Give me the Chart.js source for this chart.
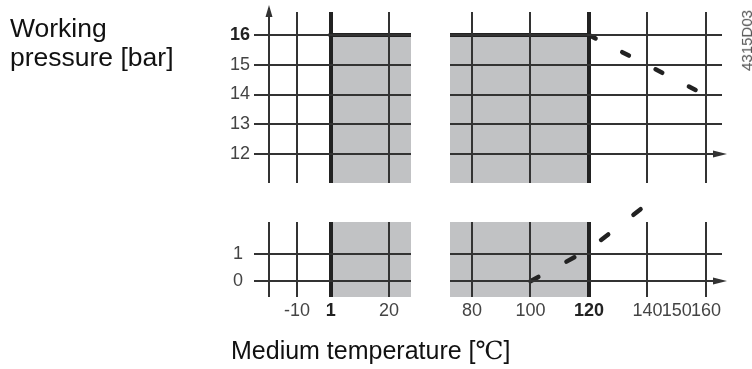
<!DOCTYPE html>
<html>
<head>
<meta charset="utf-8">
<script src="https://cdn.jsdelivr.net/npm/chart.js@4.4.1/dist/chart.umd.min.js"></script>
<style>
  html, body { margin: 0; padding: 0; background: #fff; }
  #wrap { position: relative; width: 752px; height: 369px; overflow: hidden; font-family: "Liberation Sans", Arial, sans-serif; }
  #wrap canvas { position: absolute; left: 0; top: 0; }
  .label { position: absolute; color: #111; white-space: nowrap; }
  #yTitle { left: 10px; top: 14px; font-size: 26.5px; line-height: 29px; }
  #xTitle { left: 231px; top: 338px; font-size: 25px; line-height: 25px; }
  #xTitle span { font-family: "DejaVu Serif", "Liberation Serif", serif; }
  #code { left: 740px; top: 10px; font-size: 15px; line-height: 14px; color: #555; writing-mode: vertical-rl; transform: rotate(180deg); }
</style>
</head>
<body>
<div id="wrap">
  <canvas id="topLeft" width="752" height="369"></canvas>
  <canvas id="topRight" width="752" height="369"></canvas>
  <canvas id="bottomLeft" width="752" height="369"></canvas>
  <canvas id="bottomRight" width="752" height="369"></canvas>
  <div class="label" id="yTitle">Working<br>pressure [bar]</div>
  <div class="label" id="xTitle">Medium temperature [<span>℃</span>]</div>
  <div class="label" id="code">4315D03</div>
</div>
<script>
// pressure ticks: upper band (bar) and lower band near 0
const highPressureTicks = [12, 13, 14, 15, 16];
const lowPressureTicks = [0, 1];
// temperature ticks for the two parts of the broken axis
const coldTempTicks = [-10, 1, 20];
const hotTempTicks = [80, 100, 120, 140, 150, 160];
const boldTempTicks = [1, 120];
const boldPressureTicks = [16];
const axisTemp = -19;   // where the pressure axis stands

// permitted range: 1..120 °C up to 16 bar
const rangeTemp = [1, 120];
const rangePressure = 16;
// max pressure above 120 °C
const derateTemp = [120, 157.5];
const deratePressure = [16, 14.1];
// min pressure (vapour pressure) above 100 °C
const vapourTemp = [100, 120, 138.5];
const vapourPressure = [0, 1.15, 2.67];

// visible part of each scale
const coldLimits = { min: -24, max: 27.2 };
const hotLimits = { min: 72.5, max: 165.5 };
const highLimits = { min: 11.03, max: 16.77 };
const lowLimits = { min: -0.57, max: 2.14 };

const FONT = "'Liberation Sans', Arial, sans-serif";
const GRID = "#333";
const DARK = "#222";
const GRAY = "#c1c2c4";

const pts = (xs, ys) => xs.map((x, i) => ({ x: x, y: ys[i] }));

const arrowPlugin = {
  id: "arrows",
  afterDraw(chart, args, opts) {
    const ctx = chart.ctx;
    const a = chart.chartArea;
    ctx.save();
    ctx.fillStyle = GRID;
    ctx.strokeStyle = GRID;
    ctx.lineWidth = 2;
    if (opts.upAt !== undefined) {
      const x = Math.round(chart.scales.x.getPixelForValue(opts.upAt));
      ctx.beginPath();
      ctx.moveTo(x, a.top);
      ctx.lineTo(x, a.top - 4);
      ctx.stroke();
      ctx.beginPath();
      ctx.moveTo(x, a.top - 7);
      ctx.lineTo(x - 3.5, a.top + 5);
      ctx.lineTo(x + 3.5, a.top + 5);
      ctx.closePath();
      ctx.fill();
    }
    if (opts.rightAt !== undefined) {
      const y = Math.round(chart.scales.y.getPixelForValue(opts.rightAt));
      ctx.beginPath();
      ctx.moveTo(a.right + 5, y);
      ctx.lineTo(a.right - 9, y - 3.5);
      ctx.lineTo(a.right - 9, y + 3.5);
      ctx.closePath();
      ctx.fill();
    }
    ctx.restore();
  }
};

function zeroPad(s) {
  s.paddingLeft = 0;
  s.paddingRight = 0;
  s.paddingTop = 0;
  s.paddingBottom = 0;
}

function panel(id, o) {
  const datasets = [{
    data: o.band,
    order: 2,
    fill: "start",
    backgroundColor: GRAY,
    borderColor: DARK,
    borderWidth: o.bandBorder,
    borderCapStyle: "square",
    pointRadius: 0
  }];
  if (o.curve) {
    datasets.push({
      data: o.curve,
      order: 1,
      fill: false,
      borderColor: DARK,
      borderWidth: 4.5,
      borderDash: o.dash,
      borderCapStyle: "round",
      pointRadius: 0,
      tension: 0,
      clip: false
    });
  }

  return new Chart(document.getElementById(id), {
    type: "line",
    data: { datasets: datasets },
    options: {
      responsive: false,
      animation: false,
      events: [],
      layout: { autoPadding: false, padding: o.pad },
      plugins: {
        legend: { display: false },
        tooltip: { enabled: false },
        arrows: o.arrows || {}
      },
      scales: {
        x: {
          type: "linear",
          min: o.xLimits.min,
          max: o.xLimits.max,
          border: { display: false },
          afterBuildTicks: (s) => { s.ticks = o.xTicks.map((v) => ({ value: v })); },
          afterFit: (s) => { s.height = o.xHeight; zeroPad(s); },
          grid: {
            z: 1,
            drawTicks: false,
            color: (c) => (c.tick && c.tick.value === 150 ? "rgba(0,0,0,0)" : (boldTempTicks.includes(c.tick && c.tick.value) ? DARK : GRID)),
            lineWidth: (c) => (c.tick && boldTempTicks.includes(c.tick.value) ? 4 : 2)
          },
          ticks: {
            display: o.xLabels,
            autoSkip: false,
            maxRotation: 0,
            padding: 3,
            color: (c) => (c.tick && boldTempTicks.includes(c.tick.value) ? "#222" : "#444"),
            font: (c) => ({
              family: FONT,
              size: 18,
              weight: c.tick && boldTempTicks.includes(c.tick.value) ? "bold" : "normal"
            }),
            callback: (v) => (v === axisTemp ? "" : String(v))
          }
        },
        y: {
          type: "linear",
          min: o.yLimits.min,
          max: o.yLimits.max,
          border: { display: false },
          afterBuildTicks: (s) => { s.ticks = o.yTicks.map((v) => ({ value: v })); },
          afterFit: (s) => { s.width = o.yWidth; zeroPad(s); },
          grid: { z: 1, drawTicks: false, color: GRID, lineWidth: 2 },
          ticks: {
            display: o.yLabels,
            padding: o.yPad,
            color: (c) => (c.tick && boldPressureTicks.includes(c.tick.value) ? "#222" : "#444"),
            font: (c) => ({
              family: FONT,
              size: 18,
              weight: c.tick && boldPressureTicks.includes(c.tick.value) ? "bold" : "normal"
            })
          }
        }
      }
    },
    plugins: [arrowPlugin]
  });
}

// upper left: cold side, 12..16 bar
panel("topLeft", {
  pad: { left: 200, right: 341, top: 12, bottom: 186 },
  xLimits: coldLimits, yLimits: highLimits,
  xTicks: [axisTemp].concat(coldTempTicks), yTicks: highPressureTicks,
  xLabels: false, yLabels: true, xHeight: 0, yWidth: 54, yPad: 4,
  band: pts([rangeTemp[0], coldLimits.max], [rangePressure, rangePressure]),
  bandBorder: 4,
  arrows: { upAt: axisTemp }
});

// upper right: hot side, derating line
panel("topRight", {
  pad: { left: 450, right: 30, top: 12, bottom: 186 },
  xLimits: hotLimits, yLimits: highLimits,
  xTicks: hotTempTicks, yTicks: highPressureTicks,
  xLabels: false, yLabels: false, xHeight: 0, yWidth: 0, yPad: 4,
  band: pts([hotLimits.min, rangeTemp[1]], [rangePressure, rangePressure]),
  bandBorder: 4,
  curve: pts(derateTemp, deratePressure),
  dash: [7.5, 30],
  arrows: { rightAt: highPressureTicks[0] }
});

// lower left: cold side, 0..1 bar
panel("bottomLeft", {
  pad: { left: 200, right: 341, top: 222, bottom: 32 },
  xLimits: coldLimits, yLimits: lowLimits,
  xTicks: [axisTemp].concat(coldTempTicks), yTicks: lowPressureTicks,
  xLabels: true, yLabels: true, xHeight: 40, yWidth: 54, yPad: 11,
  band: pts([rangeTemp[0], coldLimits.max], [lowLimits.max, lowLimits.max]),
  bandBorder: 0
});

// lower right: hot side, vapour pressure line
panel("bottomRight", {
  pad: { left: 450, right: 30, top: 222, bottom: 32 },
  xLimits: hotLimits, yLimits: lowLimits,
  xTicks: hotTempTicks, yTicks: lowPressureTicks,
  xLabels: true, yLabels: false, xHeight: 40, yWidth: 0, yPad: 4,
  band: pts([hotLimits.min, rangeTemp[1]], [lowLimits.max, lowLimits.max]),
  bandBorder: 0,
  curve: pts(vapourTemp, vapourPressure),
  dash: [9, 32],
  arrows: { rightAt: lowPressureTicks[0] }
});
</script>
</body>
</html>
